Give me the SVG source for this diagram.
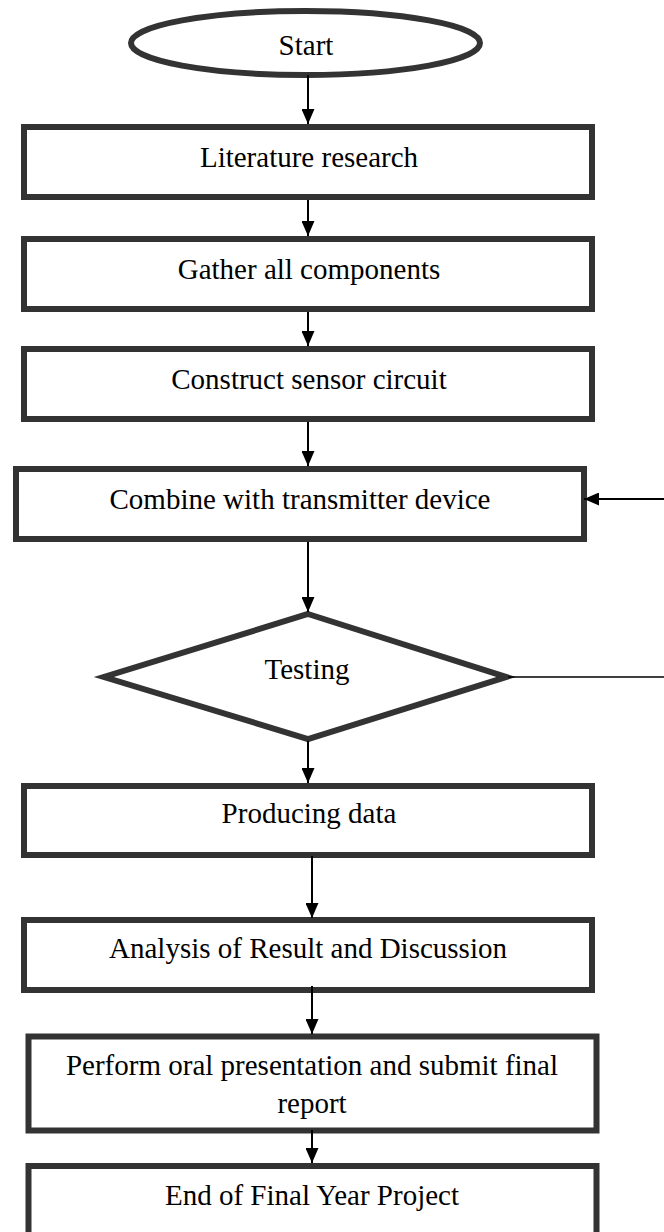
<svg xmlns="http://www.w3.org/2000/svg" width="664" height="1232" viewBox="0 0 664 1232">
<style>
.box{fill:#fff;stroke:#333;stroke-width:6}
.t{font-family:"Liberation Serif","Times New Roman",serif;font-size:29px;fill:#000;text-anchor:middle}
.c{stroke:#000;stroke-width:2;fill:none}
</style>
<defs>
<marker id="ah" markerWidth="15" markerHeight="13" refX="15" refY="6.5" orient="auto" markerUnits="userSpaceOnUse">
<path d="M0,0 L15,6.5 L0,13 Z" fill="#000"/>
</marker>
</defs>
<rect width="664" height="1232" fill="#fff"/>
<g id="start"><ellipse class="box" cx="305.5" cy="43" rx="174.5" ry="32"/><text class="t" x="306" y="55">Start</text></g>
<g id="literature"><rect class="box" x="24" y="127" width="568" height="70"/><text class="t" x="309" y="167">Literature research</text></g>
<g id="gather"><rect class="box" x="24" y="239" width="568" height="70"/><text class="t" x="309" y="279">Gather all components</text></g>
<g id="construct"><rect class="box" x="24" y="349" width="568" height="70"/><text class="t" x="309" y="389">Construct sensor circuit</text></g>
<g id="combine"><rect class="box" x="16" y="469" width="568" height="70"/><text class="t" x="300" y="509">Combine with transmitter device</text></g>
<g id="testing"><polygon class="box" points="308,614 506,677 308,739 104,677"/><text class="t" x="307" y="679">Testing</text></g>
<g id="producing"><rect class="box" x="24" y="786" width="568" height="69"/><text class="t" x="309" y="823">Producing data</text></g>
<g id="analysis"><rect class="box" x="24" y="920" width="568" height="70"/><text class="t" x="308" y="958">Analysis of Result and Discussion</text></g>
<g id="perform"><rect class="box" x="28.5" y="1036.5" width="568" height="94"/><text class="t" x="312" y="1075">Perform oral presentation and submit final</text><text class="t" x="312" y="1113">report</text></g>
<g id="end"><rect class="box" x="28.5" y="1166" width="568" height="80"/><text class="t" x="312" y="1205">End of Final Year Project</text></g>
<g id="connectors">
<line class="c" x1="308" y1="75" x2="308" y2="124" marker-end="url(#ah)"/>
<line class="c" x1="308" y1="200" x2="308" y2="236" marker-end="url(#ah)"/>
<line class="c" x1="308" y1="312" x2="308" y2="346" marker-end="url(#ah)"/>
<line class="c" x1="308" y1="422" x2="308" y2="466" marker-end="url(#ah)"/>
<line class="c" x1="308" y1="542" x2="308" y2="612" marker-end="url(#ah)"/>
<line class="c" x1="308" y1="741" x2="308" y2="783" marker-end="url(#ah)"/>
<line class="c" x1="312" y1="856" x2="312" y2="918" marker-end="url(#ah)"/>
<line class="c" x1="312" y1="986" x2="312" y2="1034" marker-end="url(#ah)"/>
<line class="c" x1="312" y1="1130" x2="312" y2="1163" marker-end="url(#ah)"/>
<line class="c" style="stroke-width:1.5" x1="508" y1="677" x2="664" y2="677"/>
<line class="c" x1="664" y1="499" x2="584" y2="499" marker-end="url(#ah)"/>
</g>
</svg>
